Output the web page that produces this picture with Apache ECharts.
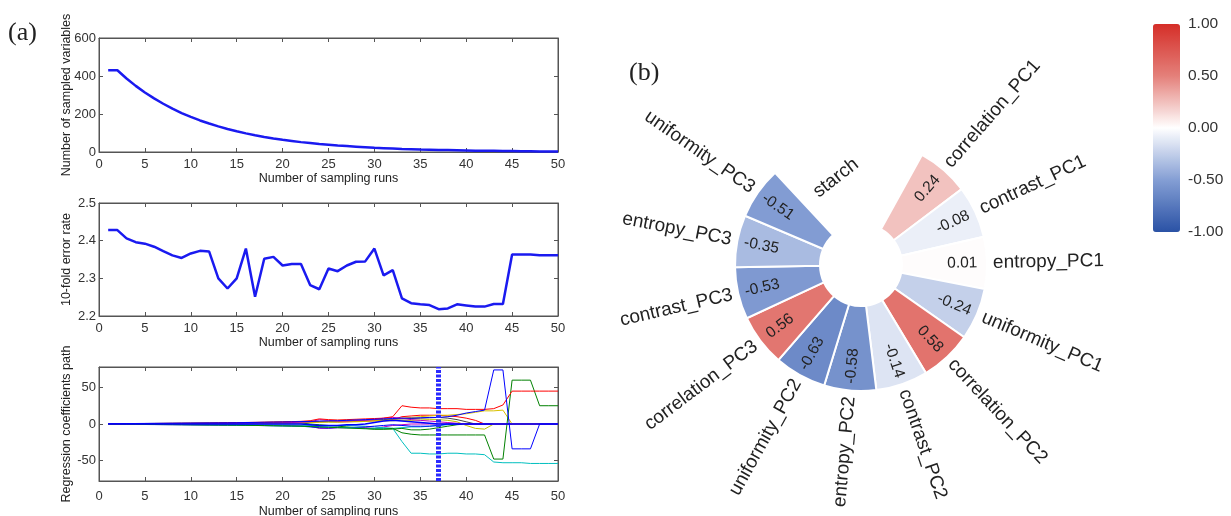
<!DOCTYPE html>
<html>
<head>
<meta charset="utf-8">
<script src="https://cdn.jsdelivr.net/npm/echarts@6.0.0/dist/echarts.min.js"></script>
<style>
html, body { margin: 0; padding: 0; background: #fff; }
#main { width: 1231px; height: 516px; }
</style>
</head>
<body>
<div id="main"></div>
<script>
// ---- panel (a) data ----
var runs = [];
for (var i = 1; i <= 50; i++) runs.push(i);

var sampledVars = [430, 430, 387, 348, 313, 282, 254, 228, 205, 185,
    166, 150, 135, 121, 109, 98, 88, 79, 71, 64,
    58, 52, 47, 42, 38, 34, 31, 28, 25, 22,
    20, 18, 16, 15, 13, 12, 11, 10, 9, 8,
    7, 6, 6, 5, 5, 4, 4, 3, 3, 2];

var errorRate = [2.428, 2.428, 2.406, 2.396, 2.392, 2.384, 2.372, 2.361, 2.354, 2.366,
    2.373, 2.371, 2.300, 2.273, 2.300, 2.379, 2.251, 2.352, 2.357, 2.334,
    2.338, 2.338, 2.282, 2.271, 2.326, 2.319, 2.334, 2.344, 2.345, 2.379,
    2.308, 2.322, 2.247, 2.234, 2.231, 2.229, 2.218, 2.220, 2.231, 2.228,
    2.225, 2.225, 2.232, 2.232, 2.363, 2.363, 2.363, 2.361, 2.361, 2.361];

var coefBlue = [0.5, 0.5, 0.6, 0.7, 0.8, 0.9, 1, 1.1, 1.2, 1.3, 1.4, 1.5, 1.6, 1.7, 1.8, 2, 2.2, 2.4, 2.6, 2.8,
    3, 3.3, 3.5, 4, 4.2, 4.5, 5, 5.5, 6, 6.5, 7, 7.5, 8, 8, 8.5, 9, 9, 10, 12, 15,
    17, 19, 74, 74, -34, -34, -34, 0, 0, 0];
var coefGreen = [-0.3, -0.3, -0.4, -0.5, -0.6, -0.7, -0.8, -0.9, -1, -1.1, -1.2, -1.3, -1.4, -1.5, -1.6, -1.8, -2, -2.2, -2.4, -2.6,
    -2.8, -3, -3.5, -4, -4.5, -5, -5.5, -6, -6.5, -7, -7, -6, -12, -14, -15, -15, -15, -15, -15, -15,
    -15, -15, -48, -48, 60, 60, 60, 25, 25, 25];
var coefRed = [0.3, 0.3, 0.4, 0.5, 0.6, 0.7, 0.8, 0.9, 1, 1.1, 1.2, 1.3, 1.5, 1.7, 1.9, 2.1, 2.3, 2.5, 2.8, 3,
    3.3, 3.6, 4.5, 7, 6, 5.5, 6, 6.5, 7, 7.5, 8, 10, 25, 23, 22, 22, 21, 21, 21, 20,
    20, 20, 21, 26, 45, 45, 45, 45, 45, 45];
var coefCyan = [-0.2, -0.2, -0.3, -0.3, -0.4, -0.5, -0.6, -0.7, -0.8, -0.9, -1, -1.1, -1.2, -1.3, -1.5, -1.7, -1.9, -2.1, -2.3, -2.5,
    -2.8, -3, -3.3, -3.6, -4, -4.5, -5, -5.5, -6, -6, -6, -6, -24, -40, -40, -41, -41, -40, -40, -41,
    -41, -42, -52, -53, -53, -53, -54, -54, -54, -54];
var coefMagenta = [0.2, 0.2, 0.2, 0.3, 0.3, 0.4, 0.4, 0.5, 0.5, 0.6, 0.6, 0.7, 0.8, 0.9, 1, 1.1, 1.2, 1.4, 1.6, 1.8,
    2, 2.5, 3, 6, 5, 4, 4, 5, 5, 6, 8, 9, 8, 6, 5, 4, 3, 2, 1, 0,
    0, 0, 0, 0, 0, 0, 0, 0, 0, 0];
var coefYellow = [0.1, 0.1, 0.2, 0.2, 0.3, 0.3, 0.4, 0.4, 0.5, 0.5, 0.6, 0.6, 0.7, 0.8, 0.9, 1, 1.1, 1.2, 1.4, 1.6,
    1.8, 2, 2.3, 2.5, 3, 3, 3.5, 4, 4.5, 5, 5, 6, 8, 9, 10, 11, 12, 12, 13, 14,
    16, 18, 18, 19, 0, 0, 0, 0, 0, 0];
var coefBlack = [0.4, 0.4, 0.5, 0.6, 0.7, 0.8, 0.9, 1, 1.1, 1.2, 1.3, 1.4, 1.5, 1.6, 1.7, 1.8, 2, 2.2, 2.4, 2.6,
    2.8, 3, 3.2, 3.4, 3.6, 3.8, 4, 4.5, 5, 5.5, 6, 6.5, 7, 7.5, 8, 8.5, 9, 8, 6, 3,
    0, 0, 0, 0, 0, 0, 0, 0, 0, 0];
var coefBlue2 = [-0.4, -0.4, -0.5, -0.6, -0.7, -0.8, -0.9, -1, -1.1, -1.2, -1.3, -1.4, -1.5, -1.6, -1.7, -1.8, -2, -2.2, -2.4, -2.6,
    -2.8, -3, -4, -5, -5.5, -5, -5, -4.5, -4, -3, -2, -1, -2, -3, -3, -3, -2, 0, 0, 0,
    0, 0, 0, 0, 0, 0, 0, 0, 0, 0];
var coefGreen2 = [0.2, 0.2, 0.3, 0.3, 0.4, 0.4, 0.5, 0.5, 0.6, 0.6, 0.7, 0.7, 0.8, 0.8, 0.9, 1, 1, 1.1, 1.2, 1.3,
    1.4, 1.5, 0, -1, -2, -3, -4, -5, -6, -7, -7, -7, -6, -8, -8, -7, -5, -3, -1, 0,
    0, 0, 0, 0, 0, 0, 0, 0, 0, 0];
var coefRed2 = [0.1, 0.1, 0.1, 0.2, 0.2, 0.3, 0.3, 0.4, 0.4, 0.5, 0.5, 0.6, 0.6, 0.7, 0.8, 0.9, 1, 1.1, 1.2, 1.3,
    1.5, 1.7, 2, 3, 3.5, 3, 3, 3.5, 4, 4.5, 5, 6, 10, 11, 12, 12, 12, 11, 10, 8,
    5, 0, 0, 0, 0, 0, 0, 0, 0, 0];
var coefCyan2 = [-0.1, -0.1, -0.2, -0.2, -0.3, -0.3, -0.4, -0.4, -0.5, -0.5, -0.6, -0.6, -0.7, -0.7, -0.8, -0.9, -1, -1.1, -1.2, -1.3,
    -1.4, -1.5, -2, -3, -2.5, -2, -2, -2.5, -3, -4, -5, -6, -5, -4, -4, -3, -2, -1, 0, 0,
    0, 0, 0, 0, 0, 0, 0, 0, 0, 0];
var coefMagenta2 = [-0.2, -0.2, -0.3, -0.3, -0.4, -0.5, -0.5, -0.6, -0.7, -0.8, -0.9, -1, -1.1, -1.2, -1.3, -1.4, -1.5, -1.6, -1.8, -2,
    -2.2, -2.5, -3, -6, -6, -5, -5, -5, -5, -6, -4, -2, -1, 0, 0, 0, 0, 0, 0, 0,
    0, 0, 0, 0, 0, 0, 0, 0, 0, 0];
var coefYellow2 = [0.3, 0.3, 0.3, 0.4, 0.4, 0.5, 0.5, 0.6, 0.6, 0.7, 0.7, 0.8, 0.8, 0.9, 1, 1.1, 1.2, 1.3, 1.4, 1.5,
    1.7, 1.9, 2, 2.5, 2.5, 2.5, 3, 3, 3.5, 4, 4, 4.5, 5, 5, 5.5, 6, 6, 5, 3, -2,
    -6, -7, 0, 0, 0, 0, 0, 0, 0, 0];
var coefZero = [0, 0, 0, 0, 0, 0, 0, 0, 0, 0, 0, 0, 0, 0, 0, 0, 0, 0, 0, 0,
    0, 0, -1, -2, -2, -2, -1, -1, 0, 2, 4, 5, 4, 3, 2, 1, 0, 0, 0, 0,
    0, 0, 0, 0, 0, 0, 0, 0, 0, 0];

var coefPaths = [coefMagenta2, coefCyan2, coefRed2, coefGreen2, coefBlue2, coefBlack, coefYellow2,
    coefYellow, coefMagenta, coefCyan, coefGreen, coefRed, coefBlue, coefZero];
var coefColors = ['#bf00bf', '#00bfbf', '#ff0000', '#008000', '#0000ff', '#404040', '#bfbf00',
    '#d8c000', '#bf00bf', '#00bfbf', '#008000', '#ff0000', '#0000ff', '#0000ff'];
var bestRun = 37;

// ---- panel (b) data ----
var featureNames = ['correlation_PC1', 'contrast_PC1', 'entropy_PC1', 'uniformity_PC1',
    'correlation_PC2', 'contrast_PC2', 'entropy_PC2', 'uniformity_PC2',
    'correlation_PC3', 'contrast_PC3', 'entropy_PC3', 'uniformity_PC3', 'starch'];
var featureCorr = [0.24, -0.08, 0.01, -0.24, 0.58, -0.14, -0.58, -0.63, 0.56, -0.53, -0.35, -0.51, null];
var ringSlots = featureNames.concat([' ', '  ']);

var FONT = '"Liberation Sans", Arial, sans-serif';
var AXIS_COLOR = '#555';

function pairs(ys) {
    return ys.map(function (y, k) { return [runs[k], y]; });
}

function bottomAxis(g, gap, margin) {
    return {
        type: 'value', gridIndex: g, min: 0, max: 50, interval: 5, position: 'bottom',
        axisLine: { onZero: false, lineStyle: { color: AXIS_COLOR } },
        axisTick: { inside: true, length: 4, lineStyle: { color: AXIS_COLOR } },
        axisLabel: { color: '#333', fontSize: 13, margin: margin },
        splitLine: { show: false },
        name: 'Number of sampling runs', nameLocation: 'middle', nameGap: gap,
        nameTextStyle: { color: '#222', fontSize: 12.5 }
    };
}
function topAxis(g) {
    return {
        type: 'value', gridIndex: g, min: 0, max: 50, interval: 5, position: 'top',
        axisLine: { onZero: false, lineStyle: { color: AXIS_COLOR } },
        axisTick: { inside: true, length: 4, lineStyle: { color: AXIS_COLOR } },
        axisLabel: { show: false }, splitLine: { show: false }
    };
}
function sideAxis(g, pos, min, max, interval, name, fmt, custom) {
    var ax = {
        type: 'value', gridIndex: g, min: min, max: max, position: pos,
        axisLine: { onZero: false, lineStyle: { color: AXIS_COLOR } },
        axisTick: { inside: true, length: 4, lineStyle: { color: AXIS_COLOR } },
        axisLabel: { show: pos === 'left', color: '#333', fontSize: 13, margin: 3 },
        splitLine: { show: false }
    };
    if (interval) ax.interval = interval;
    if (fmt) ax.axisLabel.formatter = fmt;
    if (custom) {
        ax.axisLabel.customValues = custom;
        ax.axisTick.customValues = custom;
    }
    if (name && pos === 'left') {
        ax.name = name;
        ax.nameLocation = 'middle';
        ax.nameGap = 26;
        ax.nameMoveOverlap = false;
        ax.nameTextStyle = { color: '#222', fontSize: 12.5 };
    }
    return ax;
}

var series = [];
series.push({
    type: 'line', xAxisIndex: 0, yAxisIndex: 0, data: pairs(sampledVars),
    showSymbol: false, lineStyle: { color: '#1a1af0', width: 2.5 }, itemStyle: { color: '#1a1af0' }
});
series.push({
    type: 'line', xAxisIndex: 1, yAxisIndex: 1, data: pairs(errorRate),
    showSymbol: false, lineStyle: { color: '#1a1af0', width: 2.5 }, itemStyle: { color: '#1a1af0' }
});
coefPaths.forEach(function (p, k) {
    series.push({
        type: 'line', xAxisIndex: 2, yAxisIndex: 2, data: pairs(p),
        showSymbol: false, lineStyle: { color: coefColors[k], width: k === coefPaths.length - 1 ? 1.5 : 1 },
        itemStyle: { color: coefColors[k] }
    });
});
series[series.length - 1].markLine = {
    silent: true, symbol: 'none', label: { show: false },
    lineStyle: { color: '#2a2aff', width: 5, type: [3, 1.5], opacity: 1 },
    data: [{ xAxis: bestRun }]
};

function renderRing(params, api) {
    var idx = api.value(1);
    var v = api.value(2);
    var inner = api.coord([0, idx]);
    var outer = api.coord([api.value(0), idx]);
    var r0 = inner[2], r = outer[2], a = outer[3];
    var cx = params.coordSys.cx, cy = params.coordSys.cy;
    var half = api.size([1, 1])[1] / 2;
    var flip = Math.cos(a) < 0;
    var rot = flip ? a - Math.PI : a;
    var name = featureNames[params.dataIndex];
    var children = [];
    if (v == null || isNaN(v)) {
        var ra = (r0 + r) / 2 + 7, aa = a - 0.26;
        children.push({
            type: 'text', x: cx + ra * Math.cos(aa), y: cy - ra * Math.sin(aa),
            rotation: a - Math.PI / 2 + 0.12,
            style: { text: name, align: 'center', verticalAlign: 'middle', fontSize: 19, fontFamily: FONT, fill: '#222' }
        });
    } else {
        children.push({
            type: 'sector',
            shape: { cx: cx, cy: cy, r0: r0, r: r, startAngle: -a - half, endAngle: -a + half, clockwise: true },
            style: { fill: api.visual('color'), stroke: '#fff', lineWidth: 2 }
        });
        var rv = r0 + (r - r0) * 0.71;
        children.push({
            type: 'text', x: cx + rv * Math.cos(a), y: cy - rv * Math.sin(a), rotation: rot,
            style: { text: v.toFixed(2), align: 'center', verticalAlign: 'middle', fontSize: 15.5, fontFamily: FONT, fill: '#222' }
        });
        var rl = r + 6;
        children.push({
            type: 'text', x: cx + rl * Math.cos(a), y: cy - rl * Math.sin(a), rotation: rot,
            style: { text: name, align: flip ? 'right' : 'left', verticalAlign: 'middle', fontSize: 19, fontFamily: FONT, fill: '#222' }
        });
    }
    return { type: 'group', children: children };
}

var ringIndex = series.length;
series.push({
    type: 'custom', coordinateSystem: 'polar', renderItem: renderRing,
    data: featureNames.map(function (n, k) { return [1, k, featureCorr[k]]; })
});

var chart = echarts.init(document.getElementById('main'));
var option = {
    animation: false,
    textStyle: { fontFamily: FONT },
    grid: [
        { left: 99, top: 38, width: 459, height: 114, show: true, borderColor: AXIS_COLOR, borderWidth: 1, outerBoundsMode: 'none' },
        { left: 99, top: 203, width: 459, height: 113, show: true, borderColor: AXIS_COLOR, borderWidth: 1, outerBoundsMode: 'none' },
        { left: 99, top: 367, width: 459, height: 114, show: true, borderColor: AXIS_COLOR, borderWidth: 1, outerBoundsMode: 'none' },
        { left: 1153, top: 24, width: 27, height: 208, show: false, outerBoundsMode: 'none' }
    ],
    xAxis: [
        bottomAxis(0, 20, 6), bottomAxis(1, 20, 6), bottomAxis(2, 24, 9),
        topAxis(0), topAxis(1), topAxis(2),
        { type: 'value', gridIndex: 3, show: false }
    ],
    yAxis: [
        sideAxis(0, 'left', 0, 600, 200, 'Number of sampled variables'),
        sideAxis(1, 'left', 2.2, 2.5, 0.1, '10-fold error rate', function (v) { return v.toFixed(1); }),
        sideAxis(2, 'left', -78, 78, null, 'Regression coefficients path', null, [-50, 0, 50]),
        sideAxis(0, 'right', 0, 600, 200),
        sideAxis(1, 'right', 2.2, 2.5, 0.1),
        sideAxis(2, 'right', -78, 78, null, null, null, [-50, 0, 50]),
        {
            type: 'value', gridIndex: 3, min: -1, max: 1, interval: 0.5, position: 'right',
            axisLine: { show: false }, axisTick: { show: false }, splitLine: { show: false },
            axisLabel: { color: '#333', fontSize: 15.5, margin: 8, formatter: function (v) { return v.toFixed(2); } }
        }
    ],
    polar: { center: [861, 265], radius: [41, 126] },
    angleAxis: {
        type: 'category', data: ringSlots, startAngle: 61, clockwise: true,
        axisLine: { show: false }, axisTick: { show: false }, axisLabel: { show: false },
        splitLine: { show: false }, splitArea: { show: false }
    },
    radiusAxis: {
        type: 'value', min: 0, max: 1,
        axisLine: { show: false }, axisTick: { show: false }, axisLabel: { show: false },
        splitLine: { show: false }, splitArea: { show: false }
    },
    visualMap: {
        type: 'continuous', min: -1, max: 1, dimension: 2, seriesIndex: ringIndex,
        left: 1153, top: 24, itemWidth: 27, itemHeight: 208, padding: 0,
        calculable: false, hoverLink: false, orient: 'vertical',
        inRange: { color: ['#2a52a5', '#849ed4', '#ffffff', '#e4807a', '#d52e28'] }
    },
    graphic: [
        { type: 'text', left: 8, top: 20, style: { text: '(a)', font: '26px "Liberation Serif", serif', fill: '#222' } },
        { type: 'text', left: 629, top: 60, style: { text: '(b)', font: '26px "Liberation Serif", serif', fill: '#222' } }
    ],
    series: series
};
chart.setOption(option);
</script>
</body>
</html>
